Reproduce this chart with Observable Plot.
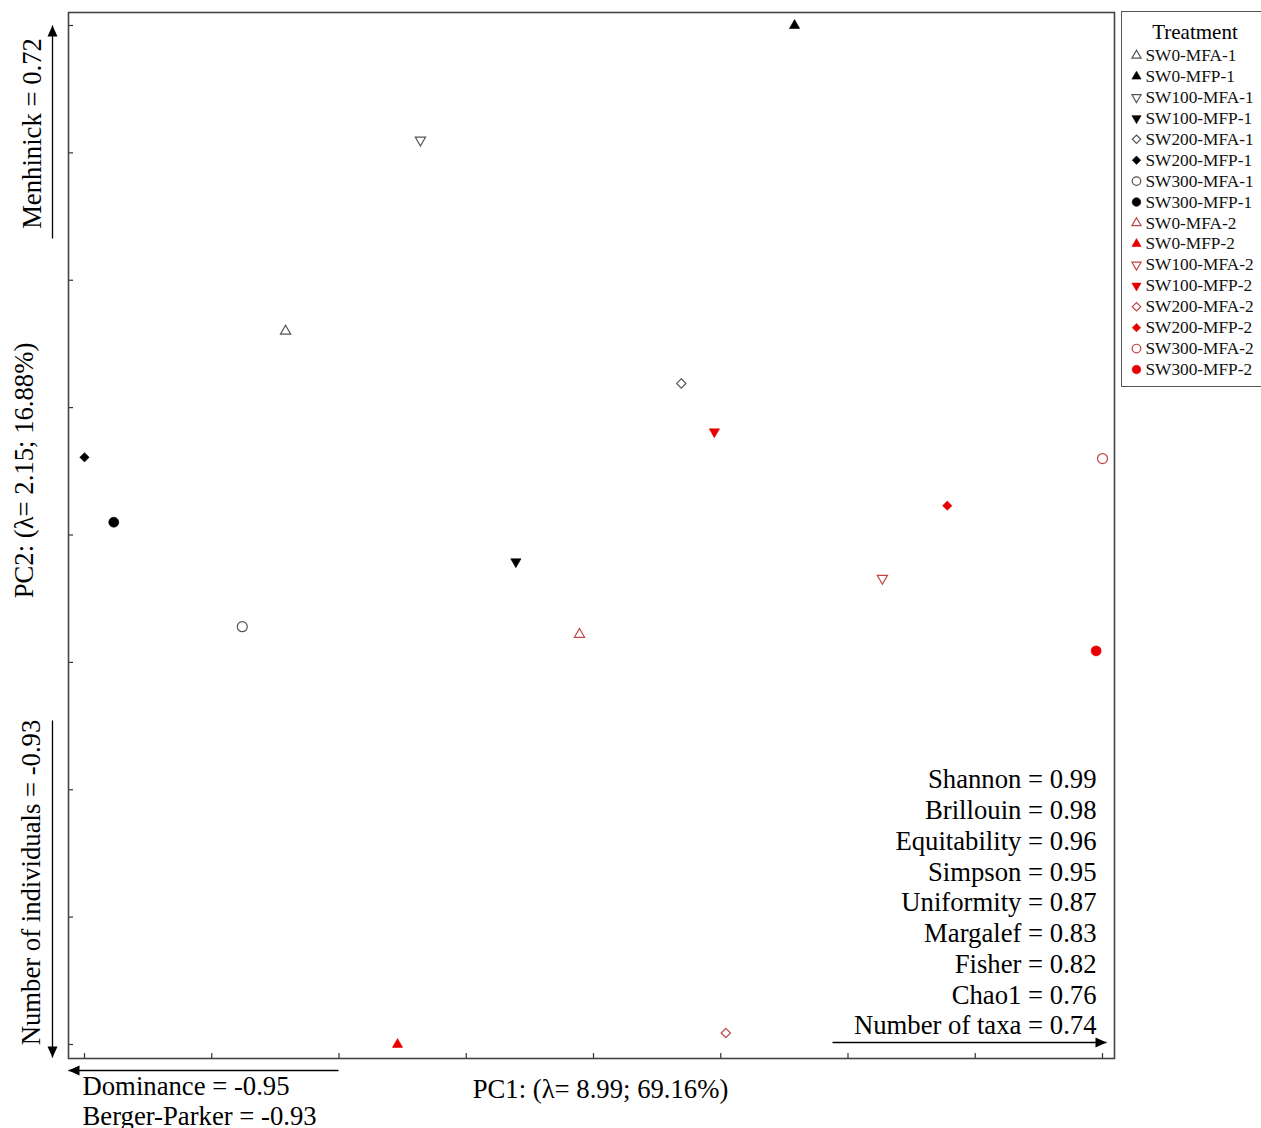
<!DOCTYPE html>
<html><head><meta charset="utf-8">
<script src="https://cdn.jsdelivr.net/npm/d3@7"></script>
<script src="https://cdn.jsdelivr.net/npm/@observablehq/plot@0.6"></script>
<style>
html,body{margin:0;padding:0;background:#fff;overflow:hidden;}
#wrap{position:relative;width:1261px;height:1128px;}
#wrap svg{position:absolute;}
</style></head><body><div id="wrap"></div>
<script>
// ---------- data ----------
const treatments = ["SW0-MFA-1","SW0-MFP-1","SW100-MFA-1","SW100-MFP-1","SW200-MFA-1","SW200-MFP-1","SW300-MFA-1","SW300-MFP-1",
                    "SW0-MFA-2","SW0-MFP-2","SW100-MFA-2","SW100-MFP-2","SW200-MFA-2","SW200-MFP-2","SW300-MFA-2","SW300-MFP-2"];
const pc1 = [1.58,5.58,2.64,3.39,4.69,0.00,1.24,0.23, 3.89,2.46,6.27,4.95,5.04,6.78,8.00,7.95];
const pc2 = [5.60,8.00,7.10,3.79,5.19,4.61,3.28,4.10, 3.22,0.00,3.66,4.81,0.09,4.23,4.60,3.09];
const gridTicks = [0,1,2,3,4,5,6,7,8];
const pc1PosIndices = ["Shannon","Brillouin","Equitability","Simpson","Uniformity","Margalef","Fisher","Chao1","Number of taxa"];
const pc1PosLoadings = [0.99,0.98,0.96,0.95,0.87,0.83,0.82,0.76,0.74];
const pc1NegIndices = ["Dominance","Berger-Parker"];
const pc1NegLoadings = [-0.95,-0.93];
const pc2PosIndices = ["Menhinick"];
const pc2PosLoadings = [0.72];
const pc2NegIndices = ["Number of individuals"];
const pc2NegLoadings = [-0.93];
const pc1Label = "PC1: (λ= 8.99; 69.16%)";
const pc2Label = "PC2: (λ= 2.15; 16.88%)";
const legendTitle = "Treatment";

// ---------- layout ----------
const W = 1261, H = 1128, mL = 68, mR = 147, mT = 12, mB = 70;
const X0 = -0.1257, X1 = 8.0943, Y0 = -0.11, Y1 = 8.102;
const kx = (W - mL - mR) / (X1 - X0), ky = (H - mT - mB) / (Y1 - Y0);
const fx = p => X0 + (p - mL) / kx;       // pixel -> data helpers for annotations
const fy = p => Y0 + (H - mB - p) / ky;
const FONT = "'Liberation Serif','Times New Roman',serif";
const FS = 26.7;

const lab = (n, v) => `${n} = ${v.toFixed(2)}`;

const data = treatments.map((name, i) => ({name, x: pc1[i], y: pc2[i]}));
const shapeOf = n => n.startsWith("SW0-") ? "up" : n.startsWith("SW100") ? "down" : n.startsWith("SW200") ? "diamond" : "circle";
const filled = n => n.includes("MFP");
const group = n => n.endsWith("-2") ? 2 : 1;
const colorOf = n => group(n) === 2 ? (filled(n) ? "#e80000" : "#c04545") : (filled(n) ? "#000000" : "#555555");

const triDown = {draw(ctx, size) {
  const y = -Math.sqrt(size / (Math.sqrt(3) * 3));
  ctx.moveTo(0, -2 * y); ctx.lineTo(Math.sqrt(3) * y, y); ctx.lineTo(-Math.sqrt(3) * y, y); ctx.closePath();
}};
const SYM = {up: d3.symbolTriangle, down: triDown, diamond: d3.symbolDiamond2, circle: d3.symbolCircle};
const R = {up: 3.8, down: 3.8, diamond: 4.2, circle: 5};
const RL = {up: 3.4, down: 3.4, diamond: 3.8, circle: 4.3};

function head(angleDeg) {
  const a = angleDeg * Math.PI / 180, c = Math.cos(a), s = Math.sin(a);
  const pts = [[0, 0], [-5, 11], [5, 11]].map(([px, py]) => [px * c - py * s, px * s + py * c]);
  return {draw(ctx) { ctx.moveTo(...pts[0]); ctx.lineTo(...pts[1]); ctx.lineTo(...pts[2]); ctx.closePath(); }};
}

const arrows = [
  {x1: fx(52), y1: fy(238), x2: fx(52), y2: fy(25), dir: 0},
  {x1: fx(52), y1: fy(720), x2: fx(52), y2: fy(1057), dir: 180},
  {x1: fx(338), y1: fy(1070), x2: fx(68), y2: fy(1070), dir: -90},
  {x1: fx(832), y1: fy(1042), x2: fx(1106), y2: fy(1042), dir: 90}
];

function pointMarks(rMap, extra) {
  return ["up","down","diamond","circle"].map(s =>
    Plot.dot(data.filter(d => shapeOf(d.name) === s), {
      ...extra,
      symbol: SYM[s], r: rMap[s],
      fill: d => filled(d.name) ? colorOf(d.name) : "white",
      stroke: d => colorOf(d.name),
      strokeWidth: d => filled(d.name) ? 0.6 : 1.2
    }));
}

const main = Plot.plot({
  width: W, height: H, marginLeft: mL, marginRight: mR, marginTop: mT, marginBottom: mB,
  x: {domain: [X0, X1], axis: null},
  y: {domain: [Y0, Y1], axis: null},
  color: {type: "identity"},
  style: {fontFamily: FONT, background: "white", color: "black"},
  marks: [
    Plot.ruleX(gridTicks, {x: d => d, y1: Y0, y2: Y0 + 5 / ky, stroke: "#333", strokeWidth: 1.2}),
    Plot.ruleY(gridTicks, {y: d => d, x1: X0, x2: X0 + 5 / kx, stroke: "#333", strokeWidth: 1.2}),
    Plot.frame({stroke: "#444", strokeWidth: 1.6}),
    Plot.link(arrows, {x1: "x1", y1: "y1", x2: "x2", y2: "y2", stroke: "black", strokeWidth: 1.3, clip: false}),
    ...arrows.map(a => Plot.dot([a], {x: "x2", y: "y2", symbol: head(a.dir), fill: "black", stroke: "none", clip: false})),
    Plot.text([pc1PosIndices.map((n, i) => lab(n, pc1PosLoadings[i])).join("\n")],
      {x: fx(1096), y: fy(901), text: d => d, textAnchor: "end", lineHeight: 30.75 / FS, fontSize: FS, fill: "black"}),
    Plot.text([pc1NegIndices.map((n, i) => lab(n, pc1NegLoadings[i])).join("\n")],
      {x: fx(82), y: fy(1100), text: d => d, textAnchor: "start", lineHeight: 30 / FS, fontSize: FS, fill: "black", clip: false}),
    Plot.text([lab(pc2PosIndices[0], pc2PosLoadings[0])], {x: fx(32), y: fy(133), text: d => d, rotate: -90, fontSize: FS, fill: "black"}),
    Plot.text([lab(pc2NegIndices[0], pc2NegLoadings[0])], {x: fx(31), y: fy(882), text: d => d, rotate: -90, fontSize: FS, fill: "black"}),
    Plot.text([pc2Label], {x: fx(24), y: fy(470), text: d => d, rotate: -90, fontSize: FS, fill: "black"}),
    Plot.text([pc1Label], {x: fx(600), y: fy(1089), text: d => d, fontSize: FS, fill: "black"}),
    ...pointMarks(R, {x: "x", y: "y"})
  ]
});
main.style.left = "0px"; main.style.top = "0px";

const legend = Plot.plot({
  width: 145, height: 374, marginTop: 0, marginBottom: 0, marginLeft: 0, marginRight: 0,
  y: {type: "point", domain: treatments, padding: 0, round: false, range: [43, 357], axis: null},
  color: {type: "identity"},
  style: {fontFamily: FONT, background: "white", color: "black"},
  marks: [
    Plot.text([legendTitle], {frameAnchor: "top", dy: 20, lineAnchor: "middle", text: d => d, fontSize: 21, fill: "black"}),
    ...pointMarks(RL, {y: "name", frameAnchor: "left", dx: 14}),
    Plot.text(data, {y: "name", frameAnchor: "left", dx: 23, text: "name", textAnchor: "start", fontSize: 17.3, fill: "#111"})
  ]
});
legend.style.left = "1121px"; legend.style.top = "11px";
legend.style.border = "1.5px solid #555"; legend.style.borderRight = "none";

const wrap = document.getElementById("wrap");
wrap.appendChild(main);
wrap.appendChild(legend);
</script></body></html>
